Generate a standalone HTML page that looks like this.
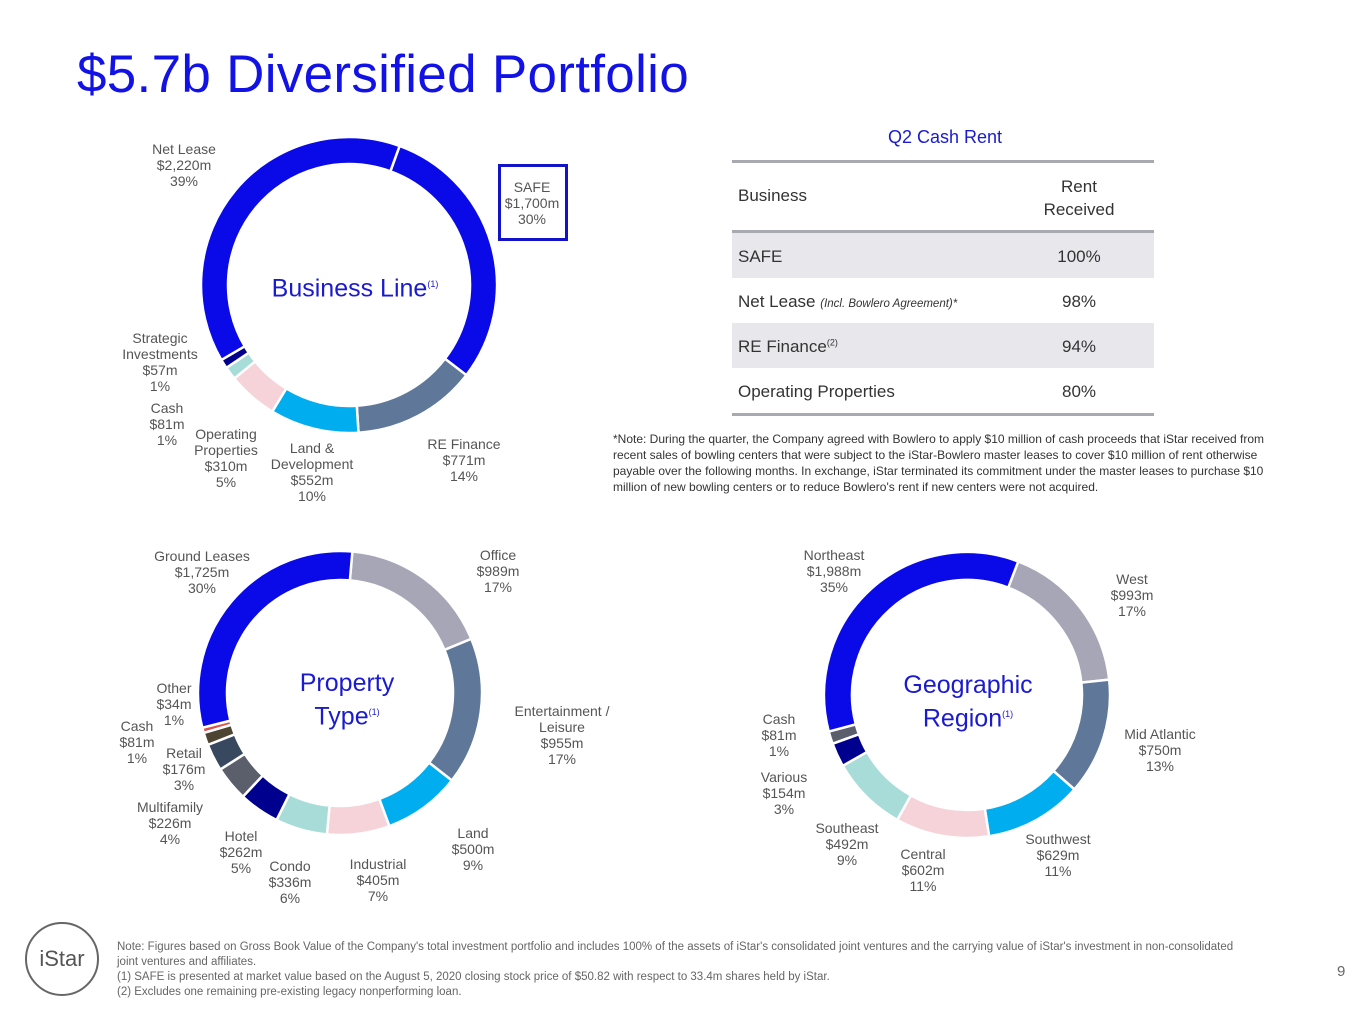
<!DOCTYPE html>
<html><head><meta charset="utf-8">
<style>
body{margin:0;width:1365px;height:1024px;background:#fff;font-family:"Liberation Sans",sans-serif;position:relative;overflow:hidden;color:#555}
.abs{position:absolute}
.lbl{position:absolute;text-align:center;font-size:14px;line-height:16px;color:#555;transform:translateX(-50%);white-space:nowrap}
.ctr{position:absolute;text-align:center;color:#1a1ad0;font-size:25px;line-height:29px;transform:translateX(-50%);white-space:nowrap}
sup{font-size:9px}
</style></head><body>
<div class="abs" style="left:77px;top:44px;font-size:53px;color:#1212e6;letter-spacing:0.3px">$5.7b Diversified Portfolio</div>

<svg class="abs" style="left:0;top:0" width="1365" height="1024">
<g id="g1"></g>
<g id="g2"></g>
<g id="g3"></g>
</svg>

<div class="ctr" style="left:355px;top:270px">Business Line<sup>(1)</sup></div>
<div class="lbl" style="left:184px;top:141px">Net Lease<br>$2,220m<br>39%</div>
<div class="abs" style="left:498px;top:164px;width:64px;height:71px;border:3px solid #1212c8"></div>
<div class="lbl" style="left:532px;top:179px">SAFE<br>$1,700m<br>30%</div>
<div class="lbl" style="left:160px;top:330px">Strategic<br>Investments<br>$57m<br>1%</div>
<div class="lbl" style="left:167px;top:400px">Cash<br>$81m<br>1%</div>
<div class="lbl" style="left:226px;top:426px">Operating<br>Properties<br>$310m<br>5%</div>
<div class="lbl" style="left:312px;top:440px">Land &amp;<br>Development<br>$552m<br>10%</div>
<div class="lbl" style="left:464px;top:436px">RE Finance<br>$771m<br>14%</div>

<div class="ctr" style="left:347px;top:669px">Property<br>Type<sup>(1)</sup></div>
<div class="lbl" style="left:202px;top:548px">Ground Leases<br>$1,725m<br>30%</div>
<div class="lbl" style="left:498px;top:547px">Office<br>$989m<br>17%</div>
<div class="lbl" style="left:562px;top:703px">Entertainment /<br>Leisure<br>$955m<br>17%</div>
<div class="lbl" style="left:473px;top:825px">Land<br>$500m<br>9%</div>
<div class="lbl" style="left:378px;top:856px">Industrial<br>$405m<br>7%</div>
<div class="lbl" style="left:290px;top:858px">Condo<br>$336m<br>6%</div>
<div class="lbl" style="left:241px;top:828px">Hotel<br>$262m<br>5%</div>
<div class="lbl" style="left:170px;top:799px">Multifamily<br>$226m<br>4%</div>
<div class="lbl" style="left:184px;top:745px">Retail<br>$176m<br>3%</div>
<div class="lbl" style="left:137px;top:718px">Cash<br>$81m<br>1%</div>
<div class="lbl" style="left:174px;top:680px">Other<br>$34m<br>1%</div>

<div class="ctr" style="left:968px;top:671px">Geographic<br>Region<sup>(1)</sup></div>
<div class="lbl" style="left:834px;top:547px">Northeast<br>$1,988m<br>35%</div>
<div class="lbl" style="left:1132px;top:571px">West<br>$993m<br>17%</div>
<div class="lbl" style="left:1160px;top:726px">Mid Atlantic<br>$750m<br>13%</div>
<div class="lbl" style="left:1058px;top:831px">Southwest<br>$629m<br>11%</div>
<div class="lbl" style="left:923px;top:846px">Central<br>$602m<br>11%</div>
<div class="lbl" style="left:847px;top:820px">Southeast<br>$492m<br>9%</div>
<div class="lbl" style="left:784px;top:769px">Various<br>$154m<br>3%</div>
<div class="lbl" style="left:779px;top:711px">Cash<br>$81m<br>1%</div>

<div class="abs" style="left:850px;top:127px;width:190px;text-align:center;font-size:18px;color:#1a1ad0">Q2 Cash Rent</div>
<div class="abs" style="left:732px;top:160px;width:422px;font-size:17px;color:#333">
 <div style="border-top:3px solid #a9a9b2;height:67px;position:relative;border-bottom:3px solid #a9a9b2">
  <div class="abs" style="left:6px;top:23px">Business</div>
  <div class="abs" style="left:290px;top:12px;width:114px;text-align:center;line-height:23px">Rent<br>Received</div>
 </div>
 <div style="height:45px;background:#e8e8ec;position:relative"><div class="abs" style="left:6px;top:14px">SAFE</div><div class="abs" style="left:290px;top:14px;width:114px;text-align:center">100%</div></div>
 <div style="height:45px;position:relative"><div class="abs" style="left:6px;top:14px">Net Lease <i style="font-size:11.5px">(Incl. Bowlero Agreement)*</i></div><div class="abs" style="left:290px;top:14px;width:114px;text-align:center">98%</div></div>
 <div style="height:45px;background:#e8e8ec;position:relative"><div class="abs" style="left:6px;top:14px">RE Finance<sup>(2)</sup></div><div class="abs" style="left:290px;top:14px;width:114px;text-align:center">94%</div></div>
 <div style="height:45px;position:relative;border-bottom:3px solid #a9a9b2"><div class="abs" style="left:6px;top:14px">Operating Properties</div><div class="abs" style="left:290px;top:14px;width:114px;text-align:center">80%</div></div>
</div>
<div class="abs" style="left:613px;top:431px;width:680px;font-size:12px;line-height:16px;color:#333">*Note: During the quarter, the Company agreed with Bowlero to apply $10 million of cash proceeds that iStar received from recent sales of bowling centers that were subject to the iStar-Bowlero master leases to cover $10 million of rent otherwise payable over the following months. In exchange, iStar terminated its commitment under the master leases to purchase $10 million of new bowling centers or to reduce Bowlero's rent if new centers were not acquired.</div>

<div class="abs" style="left:25px;top:922px;width:70px;height:70px;border:2px solid #666;border-radius:50%;text-align:center;line-height:70px;font-size:22px;color:#555">iStar</div>
<div class="abs" style="left:117px;top:940px;width:1135px;font-size:11.5px;line-height:15px;color:#666">Note: Figures based on Gross Book Value of the Company's total investment portfolio and includes 100% of the assets of iStar's consolidated joint ventures and the carrying value of iStar's investment in non-consolidated joint ventures and affiliates.<br>(1) SAFE is presented at market value based on the August 5, 2020 closing stock price of $50.82 with respect to 33.4m shares held by iStar.<br>(2) Excludes one remaining pre-existing legacy nonperforming loan.</div>
<div class="abs" style="left:1337px;top:963px;font-size:15px;color:#666">9</div>

<script>
const blCategories=["SAFE","RE Finance","Land & Development","Operating Properties","Cash","Strategic Investments","Net Lease"];
const blValues=[1700,771,552,310,81,57,2220];
const blColors=["#0a0ae8","#5f7899","#00adef","#f5d3d8","#a8dcd8","#00008c","#0a0ae8"];
const ptCategories=["Office","Entertainment / Leisure","Land","Industrial","Condo","Hotel","Multifamily","Retail","Cash","Other","Ground Leases"];
const ptValues=[989,955,500,405,336,262,226,176,81,34,1725];
const ptColors=["#a6a6b6","#5f7899","#00adef","#f5d3d8","#a8dcd8","#00008f","#5b5e6b","#38485f","#4d4431","#d9534f","#0a0ae8"];
const geoCategories=["West","Mid Atlantic","Southwest","Central","Southeast","Various","Cash","Northeast"];
const geoValues=[993,750,629,602,492,154,81,1988];
const geoColors=["#a6a6b6","#5f7899","#00adef","#f5d3d8","#a8dcd8","#00008f","#5b5e6b","#0a0ae8"];

function pt(cx,cy,r,a){const t=(a-90)*Math.PI/180;return [cx+r*Math.cos(t),cy+r*Math.sin(t)];}
function donut(gid,cx,cy,ro,ri,start,vals,cols,names){
  const g=document.getElementById(gid);
  const tot=vals.reduce((a,b)=>a+b,0);
  let a=start;
  vals.forEach((v,i)=>{
    const sw=v/tot*360,a2=a+sw;
    const p1=pt(cx,cy,ro,a),p2=pt(cx,cy,ro,a2),p3=pt(cx,cy,ri,a2),p4=pt(cx,cy,ri,a);
    const lg=sw>180?1:0;
    const p=document.createElementNS("http://www.w3.org/2000/svg","path");
    p.setAttribute("d",`M${p1[0]},${p1[1]}A${ro},${ro} 0 ${lg} 1 ${p2[0]},${p2[1]}L${p3[0]},${p3[1]}A${ri},${ri} 0 ${lg} 0 ${p4[0]},${p4[1]}Z`);
    p.setAttribute("fill",cols[i]);
    p.setAttribute("stroke","#fff");
    p.setAttribute("stroke-width","2.5");
    
    
    g.appendChild(p);
    a=a2;
  });
}
donut("g1",349,285,148,121,20,blValues,blColors,blCategories);
donut("g2",340,693,142,113,5,ptValues,ptColors,ptCategories);
donut("g3",967,695,143,115,21,geoValues,geoColors,geoCategories);
</script>
</body></html>
